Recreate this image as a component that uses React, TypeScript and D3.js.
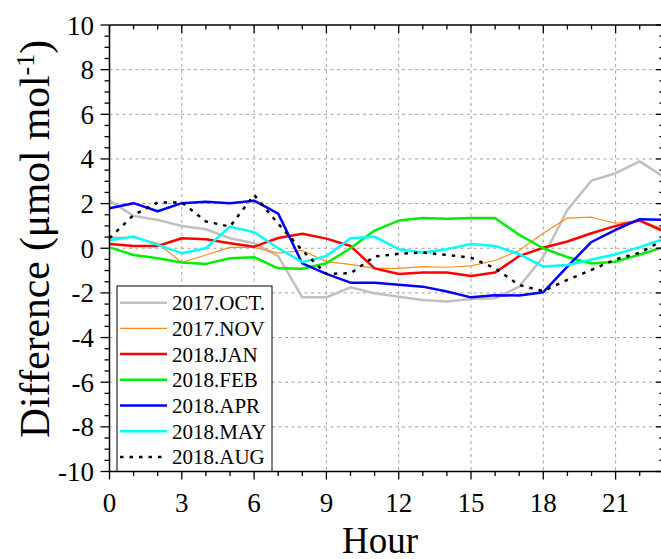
import React from "react";
import * as d3 from "d3";

const hours = [0, 1, 2, 3, 4, 5, 6, 7, 8, 9, 10, 11, 12, 13, 14, 15, 16, 17, 18, 19, 20, 21, 22, 23];

const oct2017 = [2.14, 1.45, 1.27, 1.0, 0.85, 0.45, 0.22, -0.35, -2.2, -2.2, -1.75, -2.02, -2.17, -2.32, -2.39, -2.27, -2.24, -1.72, -0.38, 1.72, 3.03, 3.36, 3.89, 3.2];
const nov2017 = [0.49, 0.49, 0.22, -0.64, -0.3, 0.04, 0.04, -0.22, -0.1, -0.6, -0.72, -0.9, -0.9, -0.82, -0.85, -0.79, -0.55, -0.1, 0.67, 1.35, 1.39, 1.12, 1.24, 0.85];
const jan2018 = [0.19, 0.1, 0.1, 0.45, 0.4, 0.22, 0.07, 0.46, 0.65, 0.43, 0.1, -0.9, -1.15, -1.09, -1.09, -1.24, -1.09, -0.35, 0.02, 0.3, 0.67, 1.0, 1.24, 0.75];
const feb2018 = [0.04, -0.3, -0.45, -0.64, -0.7, -0.45, -0.4, -0.9, -0.92, -0.67, 0.0, 0.79, 1.24, 1.35, 1.32, 1.35, 1.35, 0.6, 0.0, -0.4, -0.68, -0.6, -0.28, 0.05];
const apr2018 = [1.79, 2.02, 1.66, 2.02, 2.08, 2.02, 2.13, 1.55, -0.68, -1.15, -1.54, -1.54, -1.64, -1.72, -1.94, -2.2, -2.1, -2.12, -1.97, -0.82, 0.28, 0.82, 1.3, 1.27];
const may2018 = [0.37, 0.52, 0.15, -0.22, 0.0, 0.97, 0.72, 0.0, -0.62, -0.35, 0.45, 0.52, -0.04, -0.19, -0.04, 0.19, 0.1, -0.26, -0.82, -0.75, -0.5, -0.27, 0.05, 0.42];
const aug2018 = [0.45, 1.49, 2.05, 2.05, 1.2, 0.97, 2.39, 1.1, -0.1, -1.15, -1.12, -0.37, -0.25, -0.19, -0.3, -0.42, -0.9, -1.65, -1.92, -1.42, -0.97, -0.5, -0.2, 0.37];

const seriesNames = ["2017.OCT.", "2017.NOV", "2018.JAN", "2018.FEB", "2018.APR", "2018.MAY", "2018.AUG"];
const seriesValues = [oct2017, nov2017, jan2018, feb2018, apr2018, may2018, aug2018];
const seriesColors = ["#c0c0c0", "#ff8c1a", "#ff0000", "#00ee00", "#0000ff", "#00ffff", "#000000"];
const seriesWidths = [2.5, 1.2, 2.5, 2.5, 2.5, 2.5, 2.5];
const seriesDash = [null, null, null, null, null, null, "3.5 6"];

const xTicks = [0, 3, 6, 9, 12, 15, 18, 21];
const yTicks = [-10, -8, -6, -4, -2, 0, 2, 4, 6, 8, 10];

const W = 661;
const H = 559;
const L = 109.5;
const R = 663.8;
const T = 25;
const B = 471.5;
const FONT = "'Liberation Serif', 'Times New Roman', serif";

export default function App() {
  const x = d3.scaleLinear().domain([0, 23]).range([L, R]);
  const y = d3.scaleLinear().domain([-10, 10]).range([B, T]);
  const xMinor = x.ticks(23).filter((v) => !xTicks.includes(v));
  const yMinor = y.ticks(40).filter((v) => !yTicks.includes(v));

  const makeLine = (vals: number[]) =>
    d3
      .line<number>()
      .x((_, i) => x(hours[i]))
      .y((d) => y(d))(vals) as string;

  const legX = 117;
  const legY = 286;
  const legW = 155;
  const legH = B - legY;
  const rowY = (i: number) => 302.7 + i * 25.7;

  return (
    <svg
      width={W}
      height={H}
      style={{ position: "absolute", left: 0, top: 0, overflow: "hidden", background: "#fff" }}
      fontFamily={FONT}
    >
      <rect x={0} y={0} width={W} height={H} fill="#fff" />
      {/* grid */}
      <g stroke="#a0a0a0" strokeWidth={1} strokeDasharray="3 3.5">
        {xTicks
          .filter((v) => v > 0)
          .map((v) => (
            <line key={"gx" + v} x1={x(v)} x2={x(v)} y1={T} y2={B} />
          ))}
        {yTicks
          .filter((v) => v > -10 && v < 10)
          .map((v) => (
            <line key={"gy" + v} x1={L} x2={R} y1={y(v)} y2={y(v)} />
          ))}
      </g>
      {/* series */}
      <g fill="none" strokeLinejoin="round">
        {seriesValues.map((vals, i) => (
          <path
            key={seriesNames[i]}
            d={makeLine(vals)}
            stroke={seriesColors[i]}
            strokeWidth={seriesWidths[i]}
            strokeDasharray={seriesDash[i] || undefined}
          />
        ))}
      </g>
      {/* legend */}
      <rect x={legX} y={legY} width={legW} height={legH} fill="#fff" stroke="#000" strokeWidth={1} />
      {seriesNames.map((name, i) => (
        <g key={"leg" + name}>
          <line
            x1={120}
            x2={167}
            y1={rowY(i)}
            y2={rowY(i)}
            stroke={seriesColors[i]}
            strokeWidth={seriesWidths[i]}
            strokeDasharray={seriesDash[i] || undefined}
          />
          <text x={172} y={rowY(i) + 7.5} fontSize={21} fill="#000">
            {name}
          </text>
        </g>
      ))}
      {/* frame */}
      <g stroke="#000" strokeWidth={1.5} fill="none">
        <line x1={L} x2={R} y1={T} y2={T} />
        <line x1={L} x2={R} y1={B} y2={B} />
        <line x1={L} x2={L} y1={T} y2={B} />
        <line x1={R} x2={R} y1={T} y2={B} />
      </g>
      {/* ticks */}
      <g stroke="#000" strokeWidth={1.3}>
        {xTicks.map((v) => (
          <g key={"xt" + v}>
            <line x1={x(v)} x2={x(v)} y1={B} y2={B + 8} />
            <line x1={x(v)} x2={x(v)} y1={T} y2={T + 8} />
          </g>
        ))}
        {xMinor.map((v) => (
          <g key={"xm" + v}>
            <line x1={x(v)} x2={x(v)} y1={B} y2={B + 4.5} />
            <line x1={x(v)} x2={x(v)} y1={T} y2={T + 4.5} />
          </g>
        ))}
        {yTicks.map((v) => (
          <g key={"yt" + v}>
            <line x1={L - 9} x2={L} y1={y(v)} y2={y(v)} />
            <line x1={R - 8} x2={R} y1={y(v)} y2={y(v)} />
          </g>
        ))}
        {yMinor.map((v) => (
          <g key={"ym" + v}>
            <line x1={L - 5} x2={L} y1={y(v)} y2={y(v)} />
            <line x1={R - 4.5} x2={R} y1={y(v)} y2={y(v)} />
          </g>
        ))}
      </g>
      {/* tick labels */}
      <g fontSize={27} fill="#000">
        {xTicks.map((v) => (
          <text key={"xl" + v} x={x(v)} y={512} textAnchor="middle">
            {v}
          </text>
        ))}
        {yTicks.map((v) => (
          <text key={"yl" + v} x={94} y={y(v) + 9.5} textAnchor="end">
            {v}
          </text>
        ))}
      </g>
      {/* axis titles */}
      <text x={380} y={553} fontSize={37} textAnchor="middle" fill="#000">
        Hour
      </text>
      <text
        transform={`translate(49,239) rotate(-90)`}
        fontSize={41.5}
        textAnchor="middle"
        fill="#000"
      >
        Difference (μmol mol
        <tspan fontSize={26} dy={-15}>
          -1
        </tspan>
        <tspan dy={15}>)</tspan>
      </text>
    </svg>
  );
}
